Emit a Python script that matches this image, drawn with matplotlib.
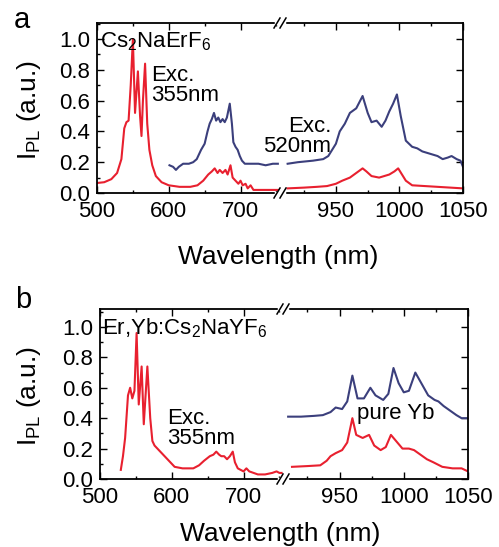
import matplotlib
matplotlib.use("Agg")
import matplotlib.pyplot as plt
from matplotlib.ticker import MultipleLocator
from matplotlib.lines import Line2D

W, H = 499, 547

RED = "#e8202f"
BLUE = "#3b3f7c"

# ---- panel a: Cs2NaErF6 ----
a_red_left_wl = [500, 510, 520, 528, 534, 538, 541, 544, 547, 550, 553, 557, 560, 562,
                 564, 567, 570, 573, 577, 582, 590, 600, 615, 630, 640, 648, 655, 660,
                 664, 668, 671, 675, 679, 682, 686, 689, 693, 697, 700, 703, 707, 710,
                 714, 718, 730, 745, 752]
a_red_left_i = [0.065, 0.07, 0.09, 0.13, 0.22, 0.42, 0.46, 0.47, 0.70, 1.00, 0.52, 0.79,
                0.50, 0.37, 0.60, 0.84, 0.45, 0.28, 0.18, 0.11, 0.07, 0.05, 0.04, 0.04,
                0.05, 0.08, 0.12, 0.14, 0.16, 0.13, 0.15, 0.13, 0.15, 0.12, 0.18, 0.10,
                0.08, 0.06, 0.08, 0.05, 0.06, 0.03, 0.05, 0.02, 0.02, 0.02, 0.02]

a_blue_left_wl = [601, 606, 610, 614, 620, 628, 634, 639, 645, 650, 654, 657, 660, 663,
                  666, 669, 672, 675, 678, 681, 685, 688, 690, 693, 696, 699, 702, 706,
                  715, 725, 735, 745, 752]
a_blue_left_i = [0.18, 0.17, 0.15, 0.17, 0.19, 0.19, 0.20, 0.22, 0.28, 0.32, 0.40, 0.45,
                 0.48, 0.52, 0.47, 0.49, 0.46, 0.48, 0.46, 0.49, 0.58, 0.45, 0.33, 0.30,
                 0.28, 0.24, 0.21, 0.19, 0.19, 0.19, 0.18, 0.19, 0.19]

a_blue_right_wl = [912, 920, 932, 940, 944, 947, 950, 953, 957, 961, 966, 971, 975, 978,
                   982, 986, 989, 992, 995, 998, 1001, 1005, 1010, 1014, 1018, 1022, 1026,
                   1030, 1034, 1038, 1041, 1045, 1048, 1050]
a_blue_right_i = [0.19, 0.20, 0.21, 0.22, 0.24, 0.28, 0.32, 0.40, 0.45, 0.52, 0.55, 0.63,
                  0.52, 0.46, 0.47, 0.43, 0.47, 0.53, 0.58, 0.64, 0.50, 0.34, 0.30, 0.29,
                  0.27, 0.26, 0.25, 0.24, 0.22, 0.23, 0.24, 0.22, 0.21, 0.17]

a_red_right_wl = [912, 925, 935, 943, 950, 955, 961, 966, 971, 974, 978, 984, 988, 992,
                  996, 999, 1002, 1005, 1010, 1020, 1030, 1040, 1050]
a_red_right_i = [0.03, 0.035, 0.04, 0.045, 0.06, 0.08, 0.10, 0.13, 0.16, 0.14, 0.11, 0.10,
                 0.11, 0.12, 0.14, 0.16, 0.12, 0.08, 0.05, 0.045, 0.04, 0.035, 0.03]

# ---- panel b: Er,Yb:Cs2NaYF6 ----
b_red_left_wl = [529, 532, 535, 539, 542, 545, 548, 551, 554, 558, 561, 566, 570, 573,
                 576, 580, 586, 592, 598, 604, 615, 630, 638, 645, 653, 658, 662, 666,
                 669, 673, 677, 681, 685, 688, 692, 696, 700, 704, 708, 714, 720, 730,
                 740, 746, 750, 753]
b_red_left_i = [0.06, 0.15, 0.27, 0.55, 0.60, 0.53, 0.58, 0.96, 0.49, 0.74, 0.36, 0.74,
                0.40, 0.25, 0.22, 0.20, 0.17, 0.14, 0.11, 0.08, 0.07, 0.07, 0.09, 0.12,
                0.15, 0.16, 0.18, 0.16, 0.15, 0.15, 0.13, 0.15, 0.18, 0.11, 0.07, 0.06,
                0.05, 0.07, 0.05, 0.04, 0.03, 0.03, 0.04, 0.05, 0.04, 0.04]

b_red_right_wl = [913, 925, 935, 940, 943, 947, 952, 956, 960, 963, 968, 973, 977, 982,
                  986, 990, 994, 999, 1004, 1008, 1013, 1018, 1023, 1030, 1038, 1045, 1050]
b_red_right_i = [0.08, 0.085, 0.09, 0.12, 0.15, 0.17, 0.19, 0.24, 0.40, 0.29, 0.27, 0.29,
                 0.22, 0.19, 0.21, 0.29, 0.25, 0.20, 0.20, 0.19, 0.16, 0.13, 0.11, 0.08,
                 0.07, 0.07, 0.05]

b_blue_right_wl = [910, 920, 930, 937, 943, 947, 952, 956, 960, 964, 969, 974, 978, 984,
                   988, 992, 996, 1000, 1004, 1009, 1013, 1019, 1024, 1027, 1031, 1036,
                   1041, 1045, 1050]
b_blue_right_i = [0.41, 0.41, 0.415, 0.42, 0.44, 0.47, 0.46, 0.51, 0.68, 0.53, 0.53, 0.60,
                  0.55, 0.52, 0.56, 0.73, 0.63, 0.57, 0.58, 0.70, 0.64, 0.55, 0.52, 0.51,
                  0.48, 0.45, 0.42, 0.40, 0.40]

plt.rcParams["font.family"] = "Liberation Sans"
plt.rcParams["mathtext.fontset"] = "custom"
plt.rcParams["mathtext.rm"] = "Liberation Sans"
plt.rcParams["mathtext.it"] = "Liberation Sans"

ANNOT = 16


def px(x, y):
    """pixel position (y down) -> figure fraction"""
    return x / W, 1 - y / H


def style_axes(ax, side):
    for s in ax.spines.values():
        s.set_linewidth(1.3)
    ax.tick_params(which="both", direction="in", top=True, width=1.0,
                   labelsize=16, pad=6)
    ax.tick_params(which="major", length=5)
    ax.tick_params(which="minor", length=2.5)
    if side == "left":
        ax.spines["right"].set_visible(False)
        ax.tick_params(which="both", right=False)
        ax.xaxis.set_major_locator(MultipleLocator(100))
        ax.xaxis.set_minor_locator(MultipleLocator(50))
        ax.yaxis.set_major_locator(MultipleLocator(0.2))
        ax.yaxis.set_minor_locator(MultipleLocator(0.1))
        ax.tick_params(axis="y", pad=5)
    else:
        ax.spines["left"].set_visible(False)
        ax.tick_params(which="both", left=False, right=True, labelleft=False)
        ax.xaxis.set_major_locator(MultipleLocator(50))
        ax.xaxis.set_minor_locator(MultipleLocator(25))
        ax.yaxis.set_major_locator(MultipleLocator(0.2))


def break_marks(fig, xj, ytop, ybot):
    for y in (ytop, ybot):
        x0, y0 = px(xj - 4, y)
        x1, y1 = px(xj + 4, y)
        fig.add_artist(Line2D([x0, x1], [y0, y1], color="white", lw=2.5))
        for dx in (-3, 3):
            xa, ya = px(xj + dx - 3, y + 5)
            xb, yb = px(xj + dx + 3, y - 5)
            fig.add_artist(Line2D([xa, xb], [ya, yb], color="black", lw=1.1))


def make_panel(fig, left, xj, right, top, bottom, ymax):
    l, b = px(left, bottom)
    _, t = px(left, top)
    ax1 = fig.add_axes([l, b, (xj - left) / W, t - b])
    ax2 = fig.add_axes([xj / W, b, (right - xj) / W, t - b])
    ax1.set_xlim(500, 755)
    ax2.set_xlim(906, 1050)
    ax1.set_ylim(0, ymax)
    ax2.set_ylim(0, ymax)
    style_axes(ax1, "left")
    style_axes(ax2, "right")
    return ax1, ax2


fig = plt.figure(figsize=(W / 100, H / 100), dpi=100)

# panel a
axa1, axa2 = make_panel(fig, 97, 280, 463, 23, 193, 1.104)
axa1.plot(a_red_left_wl, a_red_left_i, color=RED, lw=1.5)
axa1.plot(a_blue_left_wl, a_blue_left_i, color=BLUE, lw=1.5)
axa2.plot(a_blue_right_wl, a_blue_right_i, color=BLUE, lw=1.5)
axa2.plot(a_red_right_wl, a_red_right_i, color=RED, lw=1.5)
break_marks(fig, 280, 23, 193)

# panel b
axb1, axb2 = make_panel(fig, 100, 283, 468, 309, 479, 1.118)
axb1.plot(b_red_left_wl, b_red_left_i, color=RED, lw=1.5)
axb2.plot(b_blue_right_wl, b_blue_right_i, color=BLUE, lw=1.5)
axb2.plot(b_red_right_wl, b_red_right_i, color=RED, lw=1.5)
break_marks(fig, 283, 309, 479)

# labels
fig.text(*px(14, 28), "a", fontsize=21, va="baseline")
fig.text(*px(15, 308), "b", fontsize=21, va="baseline")

ylab = r"I$_\mathregular{PL}$ (a.u.)"
fig.text(*px(29, 110), ylab, fontsize=19, rotation=90, ha="center", va="center")
fig.text(*px(29, 396), ylab, fontsize=19, rotation=90, ha="center", va="center")
fig.text(*px(278, 245), "Wavelength (nm)", fontsize=19, ha="center", va="top")
fig.text(*px(280, 522), "Wavelength (nm)", fontsize=19, ha="center", va="top")

fig.text(*px(100, 47), r"Cs$_\mathregular{2}$NaErF$_\mathregular{6}$",
         fontsize=ANNOT, va="baseline")
fig.text(*px(151, 65), "Exc.\n355nm", fontsize=ANNOT, va="top", linespacing=0.95)
fig.text(*px(331, 116), "Exc.\n520nm", fontsize=ANNOT, va="top", ha="right",
         multialignment="right", linespacing=0.95)

fig.text(*px(102, 334), r"Er,Yb:Cs$_\mathregular{2}$NaYF$_\mathregular{6}$",
         fontsize=ANNOT, va="baseline")
fig.text(*px(167, 408), "Exc.\n355nm", fontsize=ANNOT, va="top", linespacing=0.95)
fig.text(*px(357, 403), "pure Yb", fontsize=ANNOT, va="top")

fig.savefig("out.png", dpi=100)
